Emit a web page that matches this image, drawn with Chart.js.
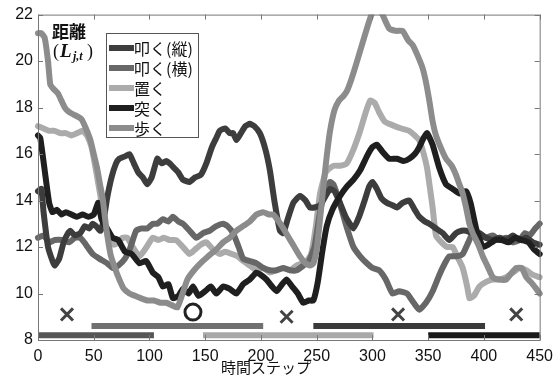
<!DOCTYPE html>
<html>
<head>
<meta charset="utf-8">
<script src="https://cdn.jsdelivr.net/npm/chart.js@4.4.1/dist/chart.umd.min.js"></script>
<style>
  html, body { margin: 0; padding: 0; background: #fff; }
  #wrap { width: 560px; height: 376px; }
</style>
</head>
<body>
<div id="wrap"><canvas id="chart" width="560" height="376"></canvas></div>
<script>
// series names (legend order)
const seriesNames = ['叩く(縦)', '叩く(横)', '置く', '突く', '歩く'];

// 叩く(縦)
const tateT = [0, 3, 5, 9, 13, 15, 19, 23, 27, 29, 33, 38, 42, 46, 49, 52, 56, 59, 62, 66, 70, 73, 78, 82, 86, 90, 94, 98, 102, 107, 111, 115, 118, 122, 126, 130, 136, 141, 146, 151, 156, 160, 163, 168, 172, 175, 178, 182, 186, 190, 194, 199, 204, 208, 212, 217, 220, 224, 229, 235, 240, 244, 248, 253, 258, 262, 266, 270, 276, 283, 288, 293, 297, 300, 304, 308, 313, 318, 322, 327, 333, 338, 342, 347, 351, 357, 363, 369, 375, 380, 384, 390, 396, 402, 408, 414, 420, 426, 432, 438, 444, 450];
const tateV = [14.4, 14.5, 13.5, 12.0, 11.4, 11.2, 11.5, 12.2, 12.6, 12.7, 12.5, 12.6, 12.9, 12.8, 13.0, 12.9, 12.7, 13.2, 14.1, 15.0, 15.6, 15.8, 15.9, 16.0, 15.6, 15.2, 15.0, 14.7, 15.0, 15.8, 15.6, 15.7, 15.6, 15.4, 15.2, 14.9, 14.8, 15.0, 15.1, 15.6, 16.3, 16.7, 17.0, 17.1, 16.9, 16.9, 16.6, 16.9, 17.2, 17.3, 17.2, 16.9, 16.2, 15.3, 14.0, 12.7, 12.6, 13.2, 13.9, 14.2, 14.0, 13.7, 13.7, 13.8, 14.2, 14.5, 14.4, 14.0, 13.3, 12.8, 13.3, 14.0, 14.6, 14.8, 14.5, 14.1, 13.9, 13.8, 13.7, 13.9, 14.0, 13.6, 13.3, 13.1, 13.0, 12.8, 12.6, 12.3, 12.6, 12.7, 12.7, 12.6, 12.6, 12.4, 12.3, 12.4, 12.3, 12.5, 12.3, 12.4, 12.2, 12.1];

// 叩く(横)
const yokoT = [0, 5, 10, 15, 22, 28, 33, 38, 43, 49, 55, 62, 67, 72, 78, 83, 88, 93, 98, 103, 107, 112, 117, 121, 126, 130, 136, 142, 148, 154, 160, 166, 170, 175, 180, 184, 190, 196, 202, 208, 214, 220, 226, 232, 238, 243, 248, 253, 258, 262, 265, 270, 276, 283, 289, 295, 300, 306, 312, 318, 324, 331, 337, 342, 348, 354, 360, 365, 369, 375, 381, 386, 390, 396, 402, 408, 414, 420, 426, 432, 437, 441, 446, 450];
const yokoV = [12.4, 12.5, 12.2, 12.3, 12.3, 12.2, 12.4, 12.4, 12.1, 11.7, 11.5, 11.3, 11.1, 11.2, 11.5, 12.0, 12.7, 12.8, 12.8, 13.0, 13.0, 13.2, 13.1, 13.3, 13.1, 13.0, 12.7, 12.4, 12.6, 12.7, 12.9, 13.0, 12.9, 12.6, 12.0, 11.5, 11.4, 11.3, 11.1, 11.0, 11.0, 11.1, 11.0, 11.0, 11.2, 11.4, 12.0, 13.5, 14.5, 14.8, 14.7, 14.0, 13.0, 12.0, 11.6, 11.3, 11.1, 11.0, 10.6, 10.0, 10.1, 10.0, 9.6, 9.3, 9.6, 10.1, 10.8, 11.3, 11.6, 11.6, 11.7, 12.2, 12.6, 12.5, 12.4, 12.5, 12.3, 12.4, 12.2, 12.3, 12.6, 12.5, 12.8, 13.0];

// 置く
const okuT = [0, 5, 10, 15, 20, 25, 30, 35, 40, 44, 48, 52, 56, 60, 64, 68, 72, 76, 80, 85, 91, 96, 103, 108, 113, 118, 124, 130, 136, 141, 146, 151, 157, 163, 168, 174, 179, 184, 190, 196, 202, 208, 214, 220, 226, 232, 237, 241, 245, 249, 253, 258, 262, 266, 271, 277, 283, 289, 294, 298, 302, 306, 311, 315, 320, 326, 333, 338, 342, 346, 349, 352, 354, 357, 362, 367, 372, 376, 381, 385, 387, 391, 396, 402, 408, 414, 420, 426, 432, 438, 444, 450];
const okuV = [17.2, 17.1, 17.0, 17.0, 16.9, 16.9, 16.8, 16.9, 17.0, 16.8, 16.3, 15.3, 14.2, 13.0, 12.3, 12.1, 12.2, 12.4, 12.4, 12.0, 11.6, 11.9, 12.4, 12.3, 12.4, 12.3, 12.3, 12.0, 11.7, 11.9, 12.1, 12.2, 11.9, 11.7, 11.8, 11.7, 11.6, 11.4, 11.2, 11.0, 11.1, 10.9, 11.0, 11.1, 11.0, 11.2, 11.3, 11.4, 11.7, 12.8, 14.3, 15.2, 15.4, 15.5, 15.5, 15.6, 16.2, 17.0, 17.8, 18.3, 18.2, 17.8, 17.4, 17.3, 17.2, 17.1, 17.0, 16.8, 16.6, 16.0, 15.4, 14.4, 13.7, 12.5, 12.2, 12.0, 12.0, 11.6, 11.1, 10.3, 9.8, 9.9, 10.3, 10.5, 10.6, 10.6, 10.7, 10.9, 11.1, 11.0, 10.8, 10.7];

// 突く
const tsukuT = [0, 2, 6, 10, 13, 17, 21, 25, 30, 35, 40, 45, 50, 54, 57, 62, 67, 72, 78, 84, 91, 97, 103, 108, 112, 117, 121, 126, 130, 135, 139, 144, 150, 155, 160, 166, 172, 178, 184, 190, 196, 200, 205, 210, 214, 219, 223, 228, 233, 238, 243, 247, 251, 255, 259, 264, 271, 277, 283, 289, 295, 300, 304, 309, 315, 322, 328, 333, 338, 342, 346, 349, 354, 360, 366, 372, 378, 384, 388, 393, 399, 404, 410, 416, 422, 428, 434, 440, 445, 450];
const tsukuV = [16.8, 16.7, 15.3, 13.9, 13.5, 13.6, 13.4, 13.5, 13.4, 13.3, 13.4, 13.3, 13.4, 13.9, 13.2, 12.8, 12.4, 12.3, 11.8, 11.7, 11.3, 11.4, 10.9, 10.7, 10.3, 10.4, 9.8, 9.9, 10.2, 10.0, 10.3, 9.9, 10.1, 10.3, 10.0, 10.3, 10.2, 10.0, 10.4, 10.6, 10.9, 10.8, 10.6, 10.3, 10.1, 10.4, 10.6, 10.3, 10.0, 9.6, 9.7, 9.7, 10.5, 11.8, 12.9, 13.6, 14.2, 14.6, 14.9, 15.3, 15.9, 16.3, 16.4, 16.1, 15.8, 15.8, 15.7, 15.8, 16.0, 16.3, 16.7, 16.9, 16.4, 15.4, 14.7, 14.5, 14.3, 14.4, 13.9, 12.8, 12.0, 12.1, 12.3, 12.3, 12.2, 12.4, 12.3, 12.2, 11.9, 11.7];

// 歩く
const arukuT = [0, 3, 6, 9, 11, 14, 18, 21, 24, 28, 32, 36, 39, 43, 47, 50, 53, 56, 58, 61, 65, 69, 73, 77, 82, 87, 92, 98, 104, 110, 115, 120, 125, 129, 134, 140, 148, 155, 160, 166, 172, 178, 184, 190, 196, 202, 207, 211, 216, 220, 225, 230, 235, 240, 244, 247, 250, 253, 256, 259, 262, 266, 270, 274, 277, 281, 285, 290, 295, 300, 305, 309, 315, 321, 327, 332, 336, 340, 345, 348, 351, 354, 357, 362, 366, 371, 375, 378, 381, 384, 387, 390, 395, 399, 403, 408, 414, 420, 425, 429, 434, 438, 442, 447, 450];
const arukuV = [21.2, 21.2, 21.0, 20.0, 19.0, 18.8, 18.6, 18.3, 18.0, 17.8, 17.7, 17.6, 17.5, 17.1, 16.6, 16.0, 15.4, 14.6, 14.1, 12.9, 11.7, 11.1, 10.6, 10.2, 10.0, 9.9, 9.8, 9.7, 9.7, 9.6, 9.6, 9.5, 9.4, 9.9, 10.6, 11.0, 11.4, 11.7, 11.9, 12.2, 12.4, 12.7, 12.9, 13.1, 13.4, 13.5, 13.4, 13.4, 13.1, 12.8, 12.4, 12.0, 11.6, 11.3, 11.2, 11.3, 11.9, 13.2, 14.6, 15.9, 17.0, 17.9, 18.3, 18.5, 18.7, 19.2, 19.8, 20.6, 21.4, 22.1, 22.3, 22.0, 21.4, 21.3, 21.3, 20.9, 20.7, 20.3, 19.7, 19.1, 18.3, 17.4, 16.8, 16.2, 15.8, 15.5, 15.1, 14.7, 14.3, 13.7, 13.0, 12.6, 12.1, 11.6, 11.2, 10.7, 10.6, 10.6, 10.9, 11.1, 11.1, 10.7, 10.5, 10.2, 10.0];

// annotated steps: crosses and the circle
const crossT = [26, 223, 323, 429];
const crossV = [9.1, 9.0, 9.1, 9.1];
const circleT = [139];
const circleV = [9.2];

// labelled intervals under the curves
const segStart = [0, 48, 148, 247, 350];
const segEnd = [104, 202, 301, 401, 450];
const segLevel = [8.2, 8.6, 8.2, 8.6, 8.2];

// axes
const xTicks = [0, 50, 100, 150, 200, 250, 300, 350, 400, 450];
const yTicks = [8, 10, 12, 14, 16, 18, 20, 22];
const xTitle = '時間ステップ';

const seriesColors = ['#3d3d3d', '#676767', '#ababab', '#1f1f1f', '#8c8c8c'];
const segColors = ['#565656', '#707070', '#a9a9a9', '#3a3a3a', '#1a1a1a'];

function pts(ts, vs) {
    return ts.map((t, i) => ({ x: t, y: vs[i] }));
}

const lineSets = [
    [tateT, tateV], [yokoT, yokoV], [okuT, okuV], [tsukuT, tsukuV], [arukuT, arukuV]
];

// draw order: black on top, light gray at the bottom
const drawOrder = [2, 3, 4, 1, 0];

const datasets = [];

// markers first so they sit on top
datasets.push({
    type: 'scatter',
    data: pts(crossT, crossV),
    pointStyle: 'crossRot',
    pointRadius: 8.5,
    pointBorderWidth: 3,
    borderColor: '#444',
    backgroundColor: '#444',
    showLine: false,
    order: 0
});
datasets.push({
    type: 'scatter',
    data: pts(circleT, circleV),
    pointStyle: 'circle',
    pointRadius: 8,
    pointBorderWidth: 3,
    borderColor: '#222',
    backgroundColor: 'rgba(0,0,0,0)',
    showLine: false,
    order: 0
});

segStart.forEach((s, i) => {
    datasets.push({
        type: 'line',
        data: [{ x: s, y: segLevel[i] }, { x: segEnd[i], y: segLevel[i] }],
        borderColor: segColors[i],
        borderWidth: 6,
        borderCapStyle: 'butt',
        pointRadius: 0,
        fill: false,
        order: 1,
        clip: 6
    });
});

lineSets.forEach(([ts, vs], i) => {
    datasets.push({
        type: 'line',
        label: seriesNames[i],
        data: pts(ts, vs),
        borderColor: seriesColors[i],
        borderWidth: 6,
        borderJoinStyle: 'round',
        borderCapStyle: 'round',
        pointRadius: 0,
        tension: 0.15,
        fill: false,
        order: 2 + drawOrder[i],
        clip: { left: 4, right: 4, top: 0, bottom: 4 }
    });
});

const FONT_NUM = '"Liberation Sans", Arial, sans-serif';
const FONT_JP = '"Noto Sans CJK JP", "Noto Sans", sans-serif';

const framePlugin = {
    id: 'frame',
    afterDraw(chart) {
        const ctx = chart.ctx;
        const a = chart.chartArea;
        const xs = chart.scales.x;
        const ys = chart.scales.y;
        ctx.save();

        // box and inward ticks
        ctx.strokeStyle = '#777';
        ctx.lineWidth = 1;
        ctx.strokeRect(a.left + 0.5, a.top + 0.5, a.right - a.left, a.bottom - a.top);
        ctx.beginPath();
        xTicks.forEach(v => {
            const px = Math.round(xs.getPixelForValue(v)) + 0.5;
            ctx.moveTo(px, a.bottom); ctx.lineTo(px, a.bottom - 5);
            ctx.moveTo(px, a.top); ctx.lineTo(px, a.top + 5);
        });
        yTicks.forEach(v => {
            const py = Math.round(ys.getPixelForValue(v)) + 0.5;
            ctx.moveTo(a.left, py); ctx.lineTo(a.left + 5, py);
            ctx.moveTo(a.right, py); ctx.lineTo(a.right - 5, py);
        });
        ctx.stroke();

        // legend box
        const lx = 106, ly = 33, lw = 92, lh = 104;
        ctx.fillStyle = '#fff';
        ctx.fillRect(lx, ly, lw, lh);
        ctx.strokeStyle = '#555';
        ctx.strokeRect(lx + 0.5, ly + 0.5, lw, lh);
        ctx.font = '16px ' + FONT_JP;
        ctx.textBaseline = 'middle';
        ctx.textAlign = 'left';
        seriesNames.forEach((name, i) => {
            const y = ly + 15 + i * 20;
            ctx.strokeStyle = seriesColors[i];
            ctx.lineWidth = 6;
            ctx.lineCap = 'butt';
            ctx.beginPath();
            ctx.moveTo(lx + 3, y);
            ctx.lineTo(lx + 28, y);
            ctx.stroke();
            ctx.fillStyle = '#111';
            ctx.fillText(name, lx + 28, y + 1);
        });

        // y-axis caption
        ctx.fillStyle = '#111';
        ctx.font = 'bold 17px ' + FONT_JP;
        ctx.fillText('距離', 52, 32);
        ctx.font = '18px "Liberation Serif", serif';
        ctx.fillText('(', 53, 52);
        ctx.font = 'italic bold 19px "Liberation Serif", serif';
        ctx.fillText('L', 60, 52);
        ctx.font = 'italic bold 12px "Liberation Serif", serif';
        ctx.fillText('j,t', 73, 57);
        ctx.font = '18px "Liberation Serif", serif';
        ctx.fillText(')', 87, 52);

        // x-axis title
        ctx.font = '15px ' + FONT_JP;
        ctx.textAlign = 'center';
        ctx.fillText(xTitle, 266, 367);
        ctx.restore();
    }
};

new Chart(document.getElementById('chart'), {
    type: 'line',
    data: { datasets: datasets },
    options: {
        responsive: false,
        animation: false,
        devicePixelRatio: 1,
        events: [],
        layout: { padding: { top: 13, right: 20, left: 0, bottom: 0 } },
        plugins: { legend: { display: false }, tooltip: { enabled: false } },
        scales: {
            x: {
                type: 'linear',
                min: 0,
                max: 450,
                afterBuildTicks: s => { s.ticks = xTicks.map(v => ({ value: v })); },
                afterFit: s => { s.height = 36; },
                grid: { display: false, drawTicks: false },
                border: { display: false },
                ticks: { font: { family: FONT_NUM, size: 16 }, color: '#111', padding: 7, maxRotation: 0, autoSkip: false }
            },
            y: {
                type: 'linear',
                min: 8,
                max: 22,
                afterBuildTicks: s => { s.ticks = yTicks.map(v => ({ value: v })); },
                afterFit: s => { s.width = 38; },
                grid: { display: false, drawTicks: false },
                border: { display: false },
                ticks: { font: { family: FONT_NUM, size: 16 }, color: '#111', padding: 5, autoSkip: false }
            }
        }
    },
    plugins: [framePlugin]
});
</script>
</body>
</html>
